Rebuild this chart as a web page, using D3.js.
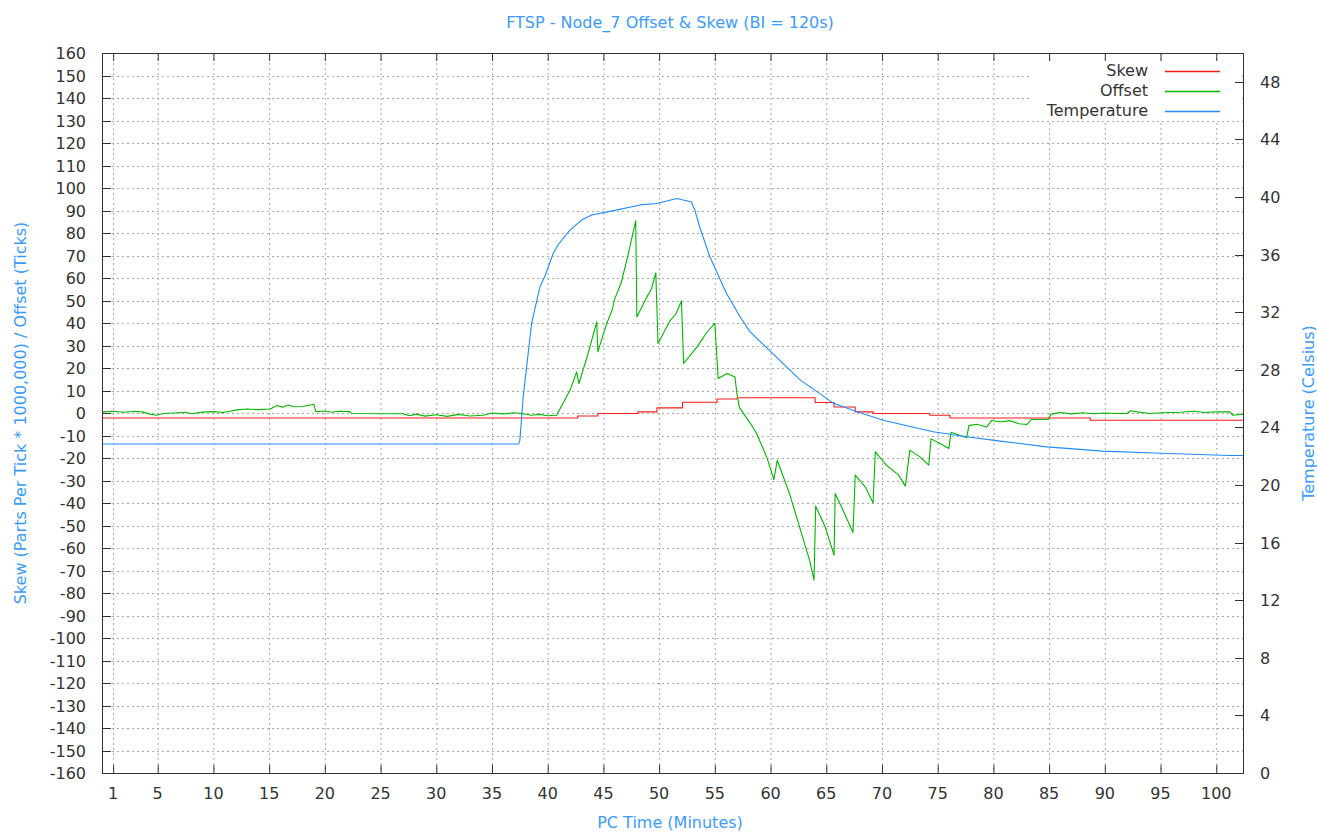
<!DOCTYPE html>
<html>
<head>
<meta charset="utf-8">
<script src="https://cdn.jsdelivr.net/npm/d3@7"></script>
<style>
	body { margin: 0; background: #fff; }
	svg { display: block; font-family: 'DejaVu Sans', sans-serif; }
	.tick-label { font-size: 16px; fill: #333; }
	.axis-title { font-size: 16px; fill: #3a9bff; }
	.grid line { stroke: #a8a8a8; stroke-width: 1; stroke-dasharray: 2,3; }
	.border { fill: none; stroke: #333; stroke-width: 1; }
	.tickmark { stroke: #333; stroke-width: 1; }
	.series { fill: none; stroke-width: 1.1; stroke-linejoin: round; }
	.legend path { fill: none; stroke-width: 1.6; }
</style>
</head>
<body>
<div class="chart"></div>
<script>
// x ticks (minutes)
const xTicks = [1, 5, 10, 15, 20, 25, 30, 35, 40, 45, 50, 55, 60, 65, 70, 75, 80, 85, 90, 95, 100]
const leftTicks = d3.range(-160, 161, 10)
const rightTicks = d3.range(0, 49, 4)

// Skew, step values
const skewTime = [0, 42.7, 44.5, 48.1, 49.8, 52.1, 55.2, 57.0, 64.0, 65.7, 67.6, 69.2, 74.3, 76.1, 88.7, 102.4]
const skewValue = [-2.2, -1.3, -0.2, 0.5, 2.3, 4.8, 6.2, 6.8, 4.7, 2.7, 0.5, -0.2, -1.0, -2.2, -3.2, -3.2]

// Offset
const offsetTime = [0, 1, 2, 3, 3.7, 4.3, 4.9, 5.5, 6.5, 7.5, 8, 9, 10, 10.8, 11.5, 12.1, 13, 14, 15.1, 15.7, 16.2, 16.7, 17.2, 18, 19, 19.2, 20, 20.6, 21.3, 22.2, 22.4,
	27, 27.6, 28.2, 29, 30, 31, 32, 33, 34.2, 35, 36, 37, 37.8, 38.5, 39.3, 40, 40.8,
	42.0, 42.6, 42.8, 43.6, 44.4, 44.5, 45.3, 45.8, 46.0, 46.6, 47.1, 47.9, 48.0, 48.9, 49.3, 49.7, 49.9, 51.0, 51.5, 52.0, 52.2, 53.4, 54.3, 55.0, 55.3, 56.1, 56.8, 57.0, 57.2,
	58.2, 58.75, 59.65, 60.3, 60.6, 61.7, 62.6, 63.5, 63.9, 64.05, 64.9, 65.7, 65.8, 66.5, 67.4, 67.6, 68.5, 69.2, 69.4, 70.4, 71.5, 72.1, 72.5, 73.4, 74.2,
	74.4, 75.2, 76.0, 76.2, 77.6, 77.8, 78.5, 79.4, 79.85, 80.6, 81.5, 82.3, 83.0, 83.4, 84.9, 85.2, 86, 87, 88, 89, 90, 91, 92.0, 92.3, 93, 94.05, 95,
	96.75, 98, 99, 100, 101.2, 101.5, 102.4]
const offsetValue = [0.5, 0.8, 0.3, 0.8, 0.4, -0.5, -1.0, -0.2, 0, 0.3, -0.3, 0.4, 0.6, 0.2, 0.8, 1.4, 1.8, 1.5, 1.8, 3.3, 2.6, 3.6, 2.8, 2.9, 3.9, 0.6, 0.9, 0.3, 0.8, 0.6, -0.2,
	-0.3, -1.2, -0.5, -1.4, -0.8, -1.5, -0.6, -1.3, -1.0, 0, -0.4, 0.1, -0.3, -1.0, -0.6, -1.2, -1.0,
	10.1, 18.3, 13.1, 26.0, 40.5, 27.2, 39.8, 46.0, 50.5, 58.0, 67.9, 85.4, 42.7, 51.6, 55.0, 62.3, 30.9, 41.2, 44.0, 49.8, 22.0, 29.4, 36.0, 39.8, 15.3, 17.6, 16.0, 8.0, 2.5,
	-4.7, -9.1, -19.5, -29.6, -21.0, -35.8, -50.6, -65.4, -74.3, -41.4, -50.6, -63.2, -35.8, -43.2, -53.1, -27.6, -32.8, -40.0, -17.3, -23.2, -27.6, -32.5, -16.5, -19.5, -23.2,
	-11.5, -13.6, -15.8, -8.6, -11.0, -5.6, -5.0, -6.2, -3.3, -4.0, -3.4, -4.8, -5.1, -2.9, -2.9, -0.5, 0.2, -0.4, 0.1, -0.3, 0, -0.2, -0.2, 1.0, 0.4, -0.2, 0.1,
	0.3, 0.8, 0.2, 0.5, 0.5, -1.0, -0.5]

// Temperature (Celsius)
const tempTime = [0, 37.4, 37.5, 37.8, 38.55, 39.3, 39.75, 40.5, 40.95, 42.0, 43.05, 43.95, 45.6, 48.3, 49.8, 51.6, 52.9, 53.2, 53.65, 54.55,
	56.05, 57.25, 58.15, 62.65, 65.6, 67.7, 70.1, 74.6, 77.6, 80.6, 84.8, 89.8, 95.0, 101.2, 102.4]
const tempValue = [22.85, 22.85, 23.1, 26.1, 31.2, 33.75, 34.5, 36.1, 36.7, 37.7, 38.4, 38.75, 39.0, 39.45, 39.55, 39.9, 39.65, 39.1, 37.9, 35.85,
	33.3, 31.7, 30.65, 27.3, 25.7, 25.1, 24.5, 23.7, 23.35, 23.05, 22.65, 22.35, 22.2, 22.05, 22.05]

const seriesNames = ['Skew', 'Offset', 'Temperature']
const seriesColors = { Skew: '#ff1a1a', Offset: '#00b800', Temperature: '#1e8cff' }

const width = 1317
const height = 834
const plot = { left: 102, right: 1243, top: 53, bottom: 773 }

const svg = d3.select('.chart').append('svg')
	.attr('width', width)
	.attr('height', height)

const scale = {
	x: d3.scaleLinear().domain([0, 102.4]).range([plot.left, plot.right]),
	y: d3.scaleLinear().domain([-160, 160]).range([plot.bottom, plot.top]),
	y2: d3.scaleLinear().domain([0, 50]).range([plot.bottom, plot.top]),
}

// grid
const grid = svg.append('g').attr('class', 'grid')
grid.selectAll('.gx')
	.data(xTicks)
	.enter().append('line')
		.attr('x1', d => scale.x(d) + 0.5)
		.attr('x2', d => scale.x(d) + 0.5)
		.attr('y1', plot.top)
		.attr('y2', plot.bottom)
grid.selectAll('.gy')
	.data(leftTicks.slice(1, -1))
	.enter().append('line')
		.attr('x1', plot.left)
		.attr('x2', plot.right)
		.attr('y1', d => Math.round(scale.y(d)) + 0.5)
		.attr('y2', d => Math.round(scale.y(d)) + 0.5)

// key area hides the grid
svg.append('rect')
	.attr('x', 1030)
	.attr('y', 61)
	.attr('width', 212)
	.attr('height', 60)
	.attr('fill', '#fff')

// tick marks, inward like gnuplot
const marks = svg.append('g')
marks.selectAll('.ml')
	.data(leftTicks)
	.enter().append('line')
		.attr('class', 'tickmark')
		.attr('x1', plot.left)
		.attr('x2', plot.left + 9)
		.attr('y1', d => Math.round(scale.y(d)) + 0.5)
		.attr('y2', d => Math.round(scale.y(d)) + 0.5)
marks.selectAll('.mr')
	.data(rightTicks)
	.enter().append('line')
		.attr('class', 'tickmark')
		.attr('x1', plot.right - 8)
		.attr('x2', plot.right)
		.attr('y1', d => Math.round(scale.y2(d)) + 0.5)
		.attr('y2', d => Math.round(scale.y2(d)) + 0.5)
marks.selectAll('.mb')
	.data(xTicks)
	.enter().append('line')
		.attr('class', 'tickmark')
		.attr('x1', d => scale.x(d) + 0.5)
		.attr('x2', d => scale.x(d) + 0.5)
		.attr('y1', plot.bottom - 8)
		.attr('y2', plot.bottom)
marks.selectAll('.mt')
	.data(xTicks)
	.enter().append('line')
		.attr('class', 'tickmark')
		.attr('x1', d => scale.x(d) + 0.5)
		.attr('x2', d => scale.x(d) + 0.5)
		.attr('y1', plot.top)
		.attr('y2', plot.top + 8)

// tick labels
const labels = svg.append('g')
labels.selectAll('.ll')
	.data(leftTicks)
	.enter().append('text')
		.attr('class', 'tick-label')
		.attr('x', 86)
		.attr('y', d => scale.y(d) + 6)
		.attr('text-anchor', 'end')
		.text(d => d)
labels.selectAll('.lr')
	.data(rightTicks)
	.enter().append('text')
		.attr('class', 'tick-label')
		.attr('x', 1260)
		.attr('y', d => scale.y2(d) + 6)
		.text(d => d)
labels.selectAll('.lb')
	.data(xTicks)
	.enter().append('text')
		.attr('class', 'tick-label')
		.attr('x', d => scale.x(d))
		.attr('y', 799)
		.attr('text-anchor', 'middle')
		.text(d => d)

// titles
svg.append('text')
	.attr('class', 'axis-title')
	.attr('x', 670)
	.attr('y', 28)
	.attr('text-anchor', 'middle')
	.text('FTSP - Node_7 Offset & Skew (BI = 120s)')
svg.append('text')
	.attr('class', 'axis-title')
	.attr('x', 670)
	.attr('y', 828)
	.attr('text-anchor', 'middle')
	.text('PC Time (Minutes)')
svg.append('text')
	.attr('class', 'axis-title')
	.attr('transform', `translate(26,${(plot.top + plot.bottom) / 2}) rotate(-90)`)
	.attr('text-anchor', 'middle')
	.text('Skew (Parts Per Tick * 1000,000) / Offset (Ticks)')
svg.append('text')
	.attr('class', 'axis-title')
	.attr('transform', `translate(1314,${(plot.top + plot.bottom) / 2}) rotate(-90)`)
	.attr('text-anchor', 'middle')
	.text('Temperature (Celsius)')

// series
const zip = (xs, ys) => xs.map((t, i) => [t, ys[i]])
const lineLeft = d3.line().x(d => scale.x(d[0])).y(d => scale.y(d[1]))
const stepLeft = d3.line().x(d => scale.x(d[0])).y(d => scale.y(d[1])).curve(d3.curveStepAfter)
const lineRight = d3.line().x(d => scale.x(d[0])).y(d => scale.y2(d[1]))

const lines = svg.append('g')
lines.append('path')
	.attr('class', 'series')
	.attr('stroke', seriesColors.Skew)
	.attr('d', stepLeft(zip(skewTime, skewValue)))
lines.append('path')
	.attr('class', 'series')
	.attr('stroke', seriesColors.Offset)
	.attr('d', lineLeft(zip(offsetTime, offsetValue)))
lines.append('path')
	.attr('class', 'series')
	.attr('stroke', seriesColors.Temperature)
	.attr('d', lineRight(zip(tempTime, tempValue)))

// legend
const legend = svg.append('g')
	.attr('class', 'legend')
	.selectAll('g')
	.data(seriesNames)
	.enter().append('g')
		.attr('transform', (d, i) => `translate(0,${71 + i * 20})`)
legend.append('text')
	.attr('class', 'tick-label')
	.attr('x', 1148)
	.attr('y', 5)
	.attr('text-anchor', 'end')
	.text(d => d)
legend.append('path')
	.attr('d', 'M1165,0.5H1220')
	.attr('stroke', d => seriesColors[d])

// border
svg.append('rect')
	.attr('class', 'border')
	.attr('x', plot.left + 0.5)
	.attr('y', plot.top + 0.5)
	.attr('width', plot.right - plot.left)
	.attr('height', plot.bottom - plot.top)
</script>
</body>
</html>
